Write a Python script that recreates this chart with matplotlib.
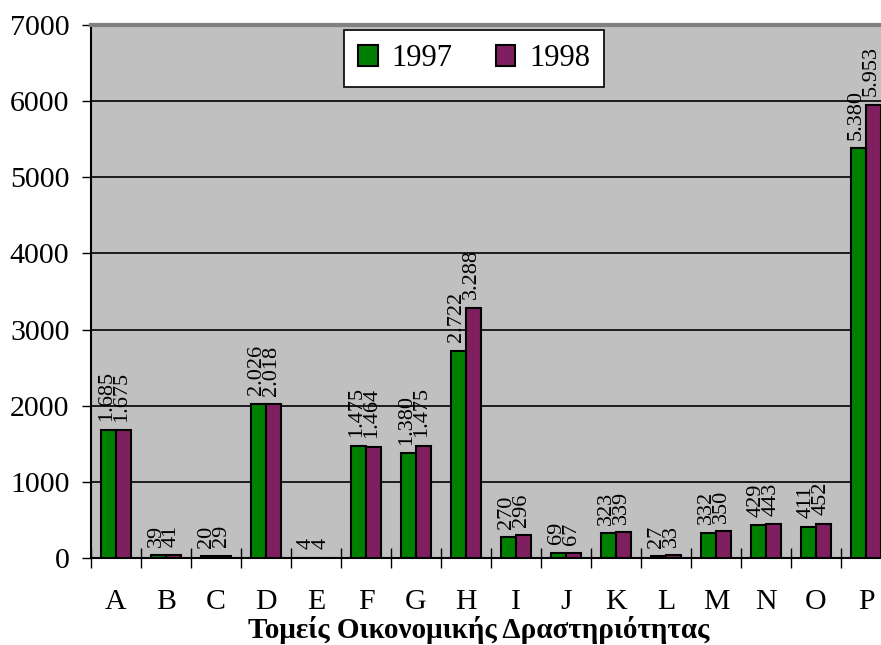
import matplotlib
matplotlib.use("Agg")
import matplotlib.pyplot as plt
import numpy as np

# Sector codes and values (from the reference)
sectors = ["A", "B", "C", "D", "E", "F", "G", "H",
           "I", "J", "K", "L", "M", "N", "O", "P"]
values_1997 = [1685, 39, 20, 2026, 4, 1475, 1380, 2722,
               270, 69, 323, 27, 332, 429, 411, 5380]
values_1998 = [1675, 41, 29, 2018, 4, 1464, 1475, 3288,
               296, 67, 339, 33, 350, 443, 452, 5953]
yticks = [0, 1000, 2000, 3000, 4000, 5000, 6000, 7000]

plt.rcParams["font.family"] = ["Liberation Serif", "DejaVu Serif"]

green = "#008000"
purple = "#801F5F"


def fmt(v):
    # Greek style thousands separator
    return f"{v:,}".replace(",", ".")


fig = plt.figure(figsize=(8.81, 6.45), dpi=100)
ax = fig.add_axes([91 / 881, 87 / 645, 800 / 881, 533 / 645])
ax.set_facecolor("#C0C0C0")

x = np.arange(len(sectors))
w = 0.3
b1 = ax.bar(x - w / 2, values_1997, w, color=green, edgecolor="black",
            linewidth=1.5, label="1997", zorder=3)
b2 = ax.bar(x + w / 2, values_1998, w, color=purple, edgecolor="black",
            linewidth=1.5, label="1998", zorder=3)

for bars, vals in ((b1, values_1997), (b2, values_1998)):
    for bar, v in zip(bars, vals):
        ax.annotate(fmt(v), (bar.get_x() + bar.get_width() / 2, v),
                    xytext=(-1.5, 6), textcoords="offset points",
                    rotation=90, ha="center", va="bottom",
                    fontsize=16, zorder=4)

ax.set_xlim(-0.5, len(sectors) - 0.5)
ax.set_ylim(0, 7000)
ax.set_yticks(yticks)
ax.yaxis.grid(True, color="black", linewidth=1.2, zorder=1)
ax.set_axisbelow(True)

# category labels in the middle, tick marks between categories
ax.set_xticks(x)
ax.set_xticklabels(sectors, fontsize=21.5)
ax.tick_params(axis="x", length=0, pad=22)
ax.set_xticks(np.arange(len(sectors) + 1) - 0.5, minor=True)
ax.tick_params(axis="x", which="minor", length=14, width=1,
               direction="inout")
ax.tick_params(axis="y", labelsize=21.5, length=6.5, width=1, pad=9)

ax.set_xlabel("Τομείς Οικονομικής Δραστηριότητας", fontsize=21,
              fontweight="bold")
ax.xaxis.set_label_coords(0.485, -0.108)

ax.spines["top"].set_color("#808080")
ax.spines["top"].set_linewidth(3)
ax.spines["left"].set_linewidth(1.5)
ax.spines["bottom"].set_linewidth(1.5)
ax.spines["right"].set_visible(False)

leg = ax.legend(loc="upper center", bbox_to_anchor=(0.479, 0.99), ncol=2,
                fontsize=22, frameon=True, fancybox=False, framealpha=1,
                edgecolor="black", handlelength=0.65, handleheight=0.65,
                columnspacing=1.4, handletextpad=0.45, borderpad=0.45,
                borderaxespad=0)
leg.get_frame().set_linewidth(1.2)

fig.savefig("out.png", dpi=100)
